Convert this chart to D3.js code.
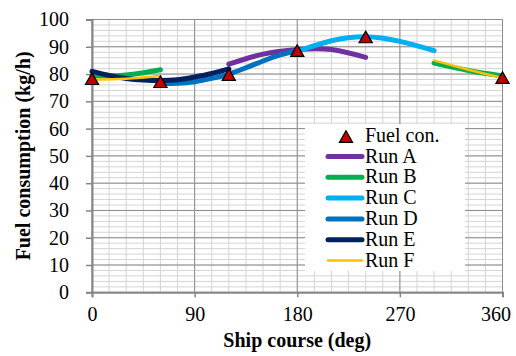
<!DOCTYPE html>
<html>
  <head>
    <meta charset="utf-8">
    <title>fuel consumption chart</title>
    <style>
      body { margin: 0; background: #fff; }
      text { font-family: "Liberation Serif", "Times New Roman", serif; fill: #000; }
    </style>
  </head>
  <body>
    <div class="chart"></div>
    <script src="https://d3js.org/d3.v7.min.js"></script>
    <script>
        var w = 516, h = 356;

        // measured fuel consumption (triangles)
        var fuelCourse = [0, 60, 120, 180, 240, 360];
        var fuelValue = [78.3, 77.2, 79.8, 88.6, 93.6, 78.7];

        // runs, each a separate segment of course
        var runNames = ["Run A", "Run B", "Run C", "Run D", "Run E", "Run F"];
        var runColors = ["#7030A0", "#00B050", "#00B0F0", "#0070C0", "#002060", "#FFC000"];
        var runWidths = [5, 5, 5, 5, 5, 2.5];

        var runACourse = [120, 150, 180, 210, 240];
        var runAValue = [83.6, 87.3, 89.0, 89.0, 86.1];

        var runBCourse1 = [0, 15, 30, 45, 60];
        var runBValue1 = [79.5, 79.3, 79.7, 80.5, 81.6];
        var runBCourse2 = [300, 330, 360];
        var runBValue2 = [84.0, 81.3, 79.3];

        var runCCourse = [180, 210, 240, 270, 300];
        var runCValue = [88.3, 92.2, 93.7, 92.0, 88.6];

        var runDCourse = [60, 75, 90, 105, 120, 135, 150, 165, 180];
        var runDValue = [76.5, 76.6, 77.2, 78.4, 80.0, 82.3, 84.8, 87.0, 88.6];

        var runECourse = [0, 15, 30, 45, 60, 75, 90, 105, 120];
        var runEValue = [81.0, 79.5, 78.4, 77.8, 77.6, 77.9, 78.9, 80.2, 81.9];

        var runFCourse1 = [0, 30, 60];
        var runFValue1 = [78.0, 78.3, 79.3];
        var runFCourse2 = [300, 330, 360];
        var runFValue2 = [85.0, 81.6, 78.6];

        var xTicks = [0, 90, 180, 270, 360];
        var yTicks = [0, 10, 20, 30, 40, 50, 60, 70, 80, 90, 100];

        function pts(xs, ys) {
          return xs.map(function(x, i) { return [x, ys[i]]; });
        }
        var runSegments = [
          [pts(runACourse, runAValue)],
          [pts(runBCourse1, runBValue1), pts(runBCourse2, runBValue2)],
          [pts(runCCourse, runCValue)],
          [pts(runDCourse, runDValue)],
          [pts(runECourse, runEValue)],
          [pts(runFCourse1, runFValue1), pts(runFCourse2, runFValue2)]
        ];

        var x = d3.scaleLinear().domain([0, 360]).range([92, 502.5]);
        var y = d3.scaleLinear().domain([0, 100]).range([292.3, 19.5]);

        var svg = d3.select(".chart")
          .append("svg")
          .attr("width", w)
          .attr("height", h);

        // minor grid
        svg.append("g")
          .selectAll("line")
          .data(d3.range(0, 101, 2))
          .enter().append("line")
          .attr("x1", x(0)).attr("x2", x(360))
          .attr("y1", function(d) { return y(d); })
          .attr("y2", function(d) { return y(d); })
          .attr("stroke", "#d4d4d4").attr("stroke-width", 1);
        svg.append("g")
          .selectAll("line")
          .data(d3.range(0, 361, 15))
          .enter().append("line")
          .attr("y1", y(0)).attr("y2", y(100))
          .attr("x1", function(d) { return x(d); })
          .attr("x2", function(d) { return x(d); })
          .attr("stroke", "#d4d4d4").attr("stroke-width", 1);

        // major grid
        svg.append("g")
          .selectAll("line")
          .data(yTicks)
          .enter().append("line")
          .attr("x1", x(0)).attr("x2", x(360))
          .attr("y1", function(d) { return y(d); })
          .attr("y2", function(d) { return y(d); })
          .attr("stroke", "#8c8c8c").attr("stroke-width", 1);
        svg.append("g")
          .selectAll("line")
          .data(xTicks)
          .enter().append("line")
          .attr("y1", y(0)).attr("y2", y(100))
          .attr("x1", function(d) { return x(d); })
          .attr("x2", function(d) { return x(d); })
          .attr("stroke", "#8c8c8c").attr("stroke-width", 1);

        // axes
        var xAxis = svg.append("g")
          .attr("transform", "translate(0," + y(0) + ")")
          .call(d3.axisBottom(x).tickValues(xTicks).tickSize(5).tickPadding(10));
        var yAxis = svg.append("g")
          .attr("transform", "translate(" + x(0) + ",0)")
          .call(d3.axisLeft(y).tickValues(yTicks).tickSize(6).tickPadding(17));
        [xAxis, yAxis].forEach(function(a) {
          a.select(".domain").attr("stroke", "#868686").attr("stroke-width", 2);
          a.selectAll(".tick line").attr("stroke", "#868686").attr("stroke-width", 1.5);
          a.selectAll("text").style("font-size", "20px").attr("font-family", null);
        });
        // last label kept inside the chart area, as Excel does
        xAxis.selectAll(".tick text")
          .filter(function(d) { return d === 360; })
          .attr("text-anchor", "end")
          .attr("x", 8);

        // run lines
        var line = d3.line()
          .x(function(d) { return x(d[0]); })
          .y(function(d) { return y(d[1]); })
          .curve(d3.curveNatural);

        runSegments.forEach(function(segs, i) {
          svg.append("g")
            .selectAll("path")
            .data(segs)
            .enter().append("path")
            .attr("d", line)
            .attr("fill", "none")
            .attr("stroke", runColors[i])
            .attr("stroke-width", runWidths[i])
            .attr("stroke-linecap", "round");
        });

        // triangle marker, box-centred on its point
        var tri = "M0,-5.8L6.6,5.8L-6.6,5.8Z";
        svg.append("g")
          .selectAll("path")
          .data(fuelCourse)
          .enter().append("path")
          .attr("d", tri)
          .attr("transform", function(d, i) {
            return "translate(" + x(d) + "," + y(fuelValue[i]) + ")";
          })
          .attr("fill", "#C00000")
          .attr("stroke", "#000")
          .attr("stroke-width", 1.2)
          .attr("stroke-linejoin", "miter");

        // legend
        var lg = svg.append("g");
        lg.append("rect")
          .attr("x", 305).attr("y", 124)
          .attr("width", 160).attr("height", 147)
          .attr("fill", "#fff");
        lg.append("path")
          .attr("d", tri)
          .attr("transform", "translate(346,136.5)")
          .attr("fill", "#C00000")
          .attr("stroke", "#000")
          .attr("stroke-width", 1.2);
        lg.append("text")
          .attr("x", 365).attr("y", 142)
          .style("font-size", "20px")
          .text("Fuel con.");
        runNames.forEach(function(name, i) {
          var yy = 156.5 + i * 20.8;
          lg.append("line")
            .attr("x1", 328).attr("x2", 362)
            .attr("y1", yy).attr("y2", yy)
            .attr("stroke", runColors[i])
            .attr("stroke-width", runWidths[i])
            .attr("stroke-linecap", "round");
          lg.append("text")
            .attr("x", 365).attr("y", yy + 6)
            .style("font-size", "20px")
            .text(name);
        });

        // axis titles
        svg.append("text")
          .attr("x", (x(0) + x(360)) / 2)
          .attr("y", 347)
          .attr("text-anchor", "middle")
          .style("font-size", "20px")
          .style("font-weight", "bold")
          .text("Ship course (deg)");
        svg.append("text")
          .attr("transform", "translate(30," + ((y(0) + y(100)) / 2) + ") rotate(-90)")
          .attr("text-anchor", "middle")
          .style("font-size", "20px")
          .style("font-weight", "bold")
          .text("Fuel consumption (kg/h)");
    </script>
  </body>
</html>
